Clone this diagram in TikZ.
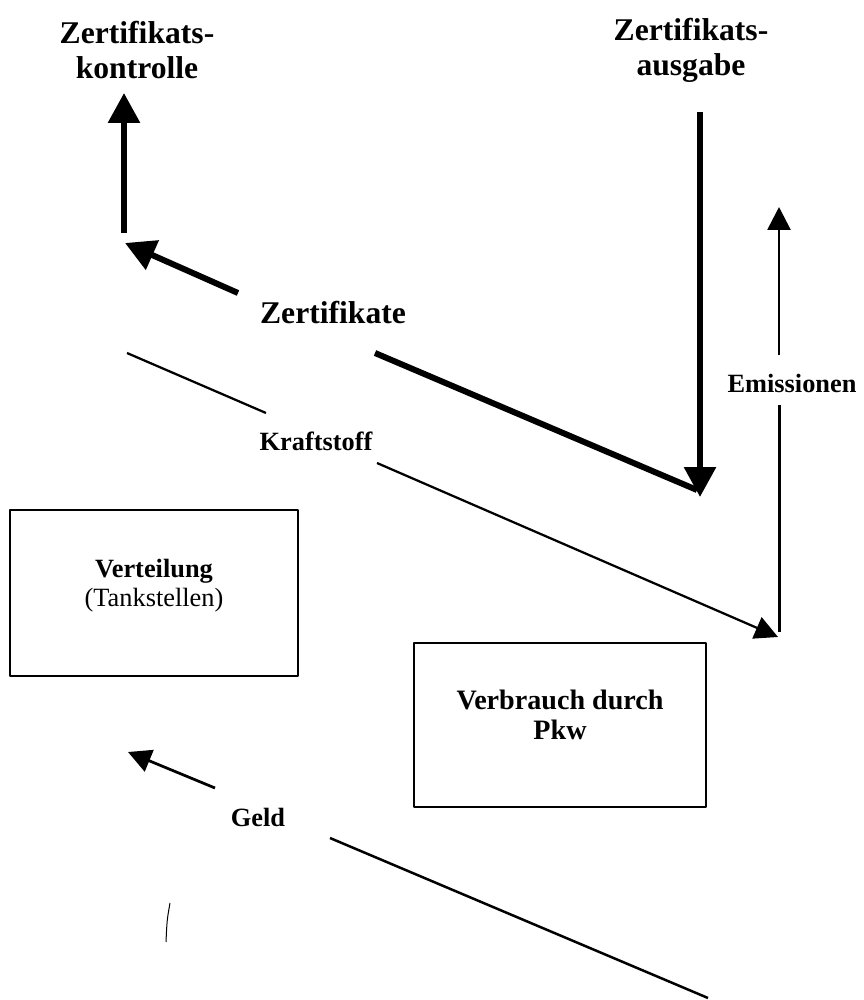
\documentclass[tikz,border=0pt]{standalone}
\usepackage{fontspec}
\setmainfont{Liberation Serif}
\usetikzlibrary{arrows.meta}
\begin{document}
\begin{tikzpicture}[x=0.02cm,y=-0.02cm,line join=round,>={Triangle[length=6mm,width=6.2mm]}]
\tikzset{every node/.style={font=\bfseries\fontsize{15}{17}\selectfont,align=center},
 big/.style={font=\bfseries\fontsize{18}{20}\selectfont},
 dick/.style={line width=1.2mm},
 duenn/.style={line width=0.55mm,-{Triangle[length=4.6mm,width=4.6mm]}},
 kasten/.style={draw,line width=0.4mm,minimum width=5.76cm,minimum height=3.34cm}}
\useasboundingbox (0,0) rectangle (864,1000);
% Kopf
\node[big] (kontr) at (137,50) {Zertifikats-\\kontrolle};
\node[big] (ausg) at (691,50) {Zertifikats-\\ausgabe};
\node[big] (zert) at (333,313) {Zertifikate};
\node (kraft) at (316,441) {Kraftstoff};
\node (emis) at (792,383) {Emissionen};
\node (geld) at (258,817) {Geld};
% Kaesten
\node[kasten] (vert) at (154,593) {};
\node[font=\mdseries\fontsize{15}{16.5}\selectfont] (vertT) at (154,586) {\textbf{Verteilung}\\(Tankstellen)};
\node[kasten,minimum width=5.86cm,minimum height=3.3cm] (verb) at (560,725) {};
\node[font=\bfseries\fontsize{16}{17}\selectfont] (verbT) at (560,715) {Verbrauch durch\\Pkw};
% Punkte
\coordinate (kU) at (124,233); \coordinate (kO) at (124,93);
\coordinate (zA) at (238,293); \coordinate (zB) at (125,243);
\coordinate (zC) at (375,353); \coordinate (zD) at (697,490);
\coordinate (aO) at (700,112); \coordinate (aU) at (700,497);
\coordinate (eU) at (779,632); \coordinate (eM) at (779,405);
\coordinate (eN) at (779,355); \coordinate (eO) at (779,207);
\coordinate (kA) at (127,353); \coordinate (kB) at (266,413);
\coordinate (kC) at (377,463); \coordinate (kD) at (778,637);
\coordinate (gA) at (708,998); \coordinate (gB) at (330,838);
\coordinate (gC) at (215,788); \coordinate (gD) at (128,752);
% Pfeile
\draw[dick,->] (kU) -- (kO);
\draw[dick,->] (zA) -- (zB);
\draw[dick] (zC) -- (zD);
\draw[dick,->] (aO) -- (aU);
\draw[line width=0.6mm] (eU) -- (eM);
\draw[duenn] (eN) -- (eO);
\draw[line width=0.45mm] (kA) -- (kB);
\draw[duenn,line width=0.45mm] (kC) -- (kD);
\draw[line width=0.5mm] (gA) -- (gB);
\draw[duenn] (gC) -- (gD);
\draw[line width=0.2mm] (170,903) .. controls (167,920) .. (166,942);
\end{tikzpicture}
\end{document}
